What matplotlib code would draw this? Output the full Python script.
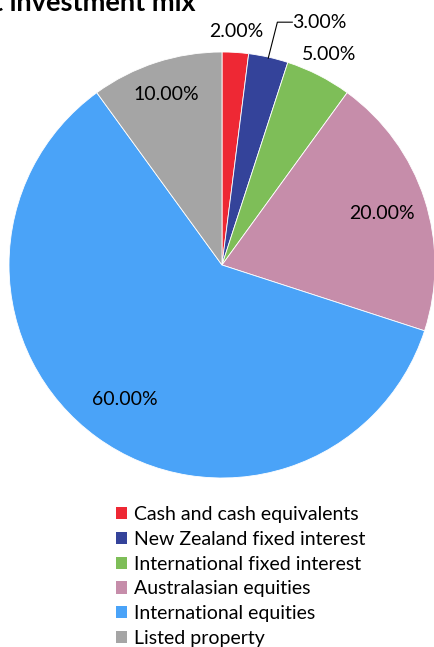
import numpy as np
import matplotlib
matplotlib.use("Agg")
import matplotlib.pyplot as plt
from matplotlib.patches import Patch

plt.rcParams['font.family'] = ['Lato', 'DejaVu Sans']

# data
categorias = ['Cash and cash equivalents', 'New Zealand fixed interest',
              'International fixed interest', 'Australasian equities',
              'International equities', 'Listed property']
porcentajes = [2, 3, 5, 20, 60, 10]
colores = ['#EE2834', '#34439A', '#7EBE58', '#C68DAA', '#4AA3F8', '#A5A5A5']
titulo = 'Target investment mix'

fig = plt.figure(figsize=(4.34, 6.47), dpi=100)
ax = fig.add_axes([9/434, 1 - 478/647, 426/434, 426/647])

wedges, _ = ax.pie(porcentajes, colors=colores, startangle=90, counterclock=False,
                   radius=1, wedgeprops=dict(edgecolor='white', linewidth=0.6))
ax.set_xlim(-1, 1)
ax.set_ylim(-1, 1)
ax.set_aspect('equal')
ax.axis('off')

# label distances (fraction of radius) for each slice
dist = [1.10, 1.27, 1.11, 0.79, 0.78, 0.84]
for w, p, d in zip(wedges, porcentajes, dist):
    ang = np.deg2rad((w.theta1 + w.theta2) / 2)
    x, y = d * np.cos(ang), d * np.sin(ang)
    txt = '%.2f%%' % p
    if p == 3:
        xe, ye = np.cos(ang), np.sin(ang)
        ax.plot([xe * 0.995, 0.26, 0.33], [ye * 0.995, 1.14, 1.14],
                color='black', lw=0.8, clip_on=False)
        ax.text(0.33, 1.14, txt, ha='left', va='center', fontsize=14)
    else:
        ax.text(x, y, txt, ha='center', va='center', fontsize=14)

fig.text(196/434, 1 - 11/647, titulo, ha='right', va='baseline',
         fontsize=19.5, fontweight='bold')

handles = [Patch(facecolor=c) for c in colores]
fig.legend(handles, categorias, loc='upper left', bbox_to_anchor=(116/434, 1 - 506/647),
           frameon=False, fontsize=14, handlelength=0.58, handleheight=0.58,
           handletextpad=0.35, labelspacing=0.4, borderaxespad=0, borderpad=0)

fig.savefig('out.png', dpi=100)
